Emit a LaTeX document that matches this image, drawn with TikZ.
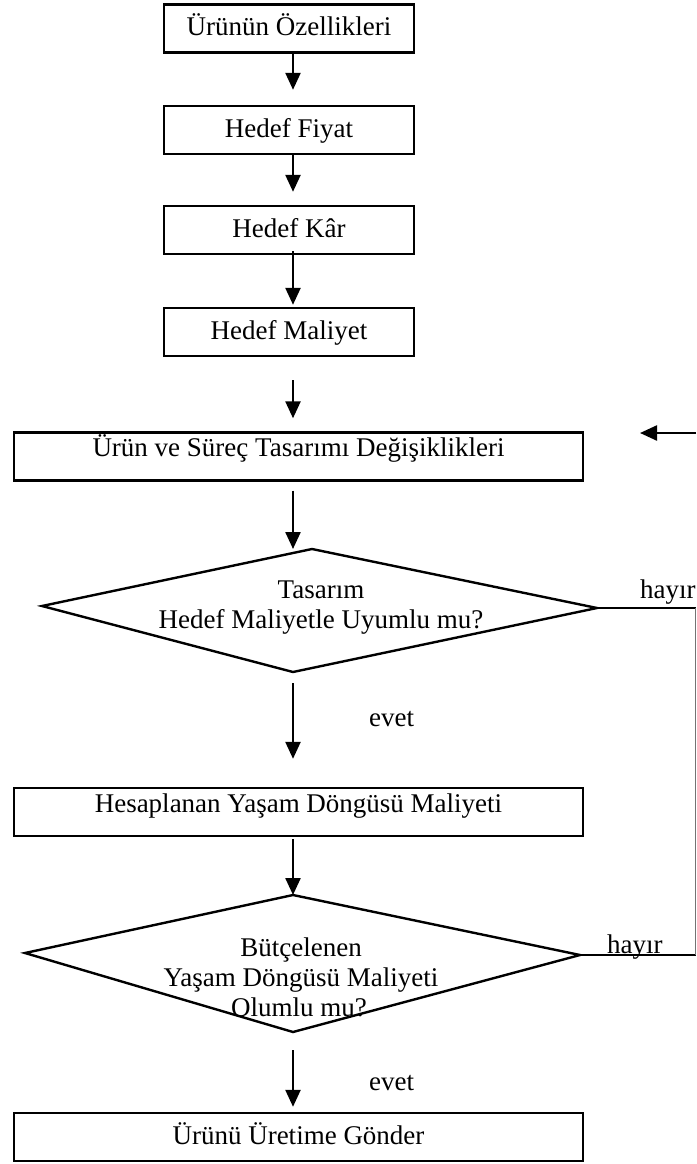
\documentclass[tikz,border=0pt]{standalone}
\usepackage{fontspec}
\setmainfont{Liberation Serif}
\usetikzlibrary{arrows.meta}
\begin{document}
\begin{tikzpicture}[x=1pt,y=-1pt,
  every node/.style={font=\fontsize{27}{32}\selectfont},
  stepbox/.style={draw,line width=2.4pt,rectangle,inner sep=0pt,
    minimum height=48pt,text height=20pt,text depth=6pt},
  topbox/.style={stepbox,minimum width=250pt},
  widebox/.style={stepbox,minimum width=569pt},
  flow/.style={line width=2.4pt,-{Triangle[length=17pt,width=15pt]}},
  plain/.style={line width=2.4pt},
  decision/.style={line width=2.4pt,line join=miter},
  lbl/.style={inner sep=0pt,anchor=base},
  lblw/.style={inner sep=0pt,anchor=base west},
  back/.style={line width=1pt,black!55}]
\useasboundingbox (0,0) rectangle (696,1164);

% column of the main flow arrows
\coordinate (axis) at (293,0);

% target-costing steps
\node[topbox] (b1) at (289,28.5) {Ürünün Özellikleri};
\node[topbox] (b2) at (289,130) {Hedef Fiyat};
\node[topbox] (b3) at (289,230) {Hedef Kâr};
\node[topbox] (b4) at (289,332) {Hedef Maliyet};
\node[widebox,text depth=20pt] (b5) at (298.5,456.5) {Ürün ve Süreç Tasarımı Değişiklikleri};

% first decision
\coordinate (d1l) at (42,606);
\coordinate (d1t) at (312,549);
\coordinate (d1r) at (597,608);
\coordinate (d1b) at (293,672);
\draw[decision] (d1l) -- (d1t) -- (d1r) -- (d1b) -- cycle;
\node[lbl] (d1x) at (321,598) {Tasarım};
\node[lbl] (d1y) at (321,628) {Hedef Maliyetle Uyumlu mu?};

\node[widebox,text depth=20pt] (b6) at (298.5,812) {Hesaplanan Yaşam Döngüsü Maliyeti};

% second decision
\coordinate (d2l) at (25,953);
\coordinate (d2t) at (293,895);
\coordinate (d2r) at (580,955);
\coordinate (d2b) at (293,1032);
\draw[decision] (d2l) -- (d2t) -- (d2r) -- (d2b) -- cycle;
\node[lbl] (d2x) at (301,956) {Bütçelenen};
\node[lbl] (d2y) at (301,986) {Yaşam Döngüsü Maliyeti};
\node[lbl] (d2z) at (299,1016) {Olumlu mu?};

\node[widebox,text height=20pt,text depth=6pt] (b7) at (298.5,1137) {Ürünü Üretime Gönder};

% main flow
\draw[flow,shorten >=15pt] (b1.south -| axis) -- (b2.north -| axis);
\draw[flow,shorten >=13pt] (b2.south -| axis) -- (b3.north -| axis);
\draw[flow,shorten <=-4pt,shorten >=2pt] (b3.south -| axis) -- (b4.north -| axis);
\draw[flow,shorten <=23pt,shorten >=13pt] (b4.south -| axis) -- (b5.north -| axis);
\draw[flow,shorten <=9pt] (b5.south -| axis) -- (d1t -| axis);
\draw[flow,shorten <=11pt,shorten >=28pt] (d1b) -- (b6.north -| axis);
\node[lblw] (e1) at (369,726) {evet};
\draw[flow,shorten <=2pt] (b6.south -| axis) -- (d2t);
\draw[flow,shorten <=18pt,shorten >=5pt] (d2b) -- (b7.north -| axis);
\node[lblw] (e2) at (369,1090) {evet};

% "no" branches back to the design step
\coordinate (r1) at (696,608);
\coordinate (r2) at (696,955);
\coordinate (rt) at (696,433);
\coordinate (rtip) at (640,433);
\draw[plain] (d1r) -- (r1);
\node[lblw] (h1) at (640,598) {hayır};
\draw[plain] (d2r) -- (r2);
\node[lblw] (h2) at (607,953) {hayır};
\draw[back] ([xshift=-1pt]r1) -- ([xshift=-1pt]r2);
\draw[flow] (rt) -- (rtip);
\end{tikzpicture}
\end{document}
